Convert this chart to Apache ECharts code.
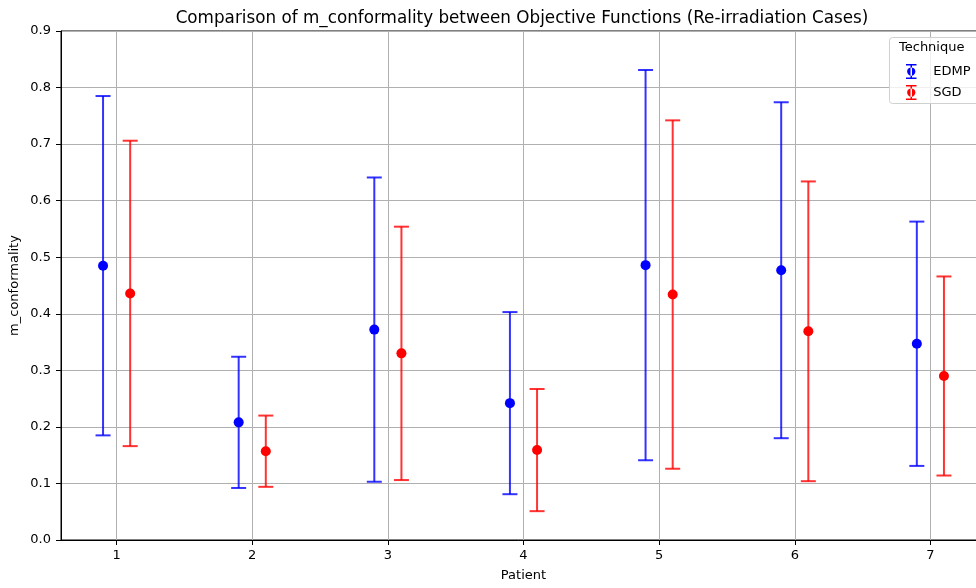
<!DOCTYPE html>
<html>
<head>
<meta charset="utf-8">
<script src="https://cdn.jsdelivr.net/npm/echarts@6/dist/echarts.min.js"></script>
<style>
html,body{margin:0;padding:0;background:#fff;}
#chart{width:976px;height:588px;}
</style>
</head>
<body>
<div id="chart"></div>
<script>
const patients = [1, 2, 3, 4, 5, 6, 7];
const edmpMean = [0.485, 0.208, 0.372, 0.242, 0.486, 0.477, 0.347];
const edmpStd  = [0.300, 0.116, 0.269, 0.161, 0.345, 0.297, 0.216];
const sgdMean  = [0.436, 0.157, 0.330, 0.159, 0.434, 0.369, 0.290];
const sgdStd   = [0.270, 0.063, 0.224, 0.108, 0.308, 0.265, 0.176];
const yTicks = [0.0, 0.1, 0.2, 0.3, 0.4, 0.5, 0.6, 0.7, 0.8, 0.9];

const FONT = 'DejaVu Sans';
const offset = 0.1;

function errData(means, stds, sign) {
  return patients.map((p, i) => [p + sign * offset, means[i] - stds[i], means[i] + stds[i]]);
}
function ptData(means, sign) {
  return patients.map((p, i) => [p + sign * offset, means[i]]);
}
function errRender(color) {
  return function (params, api) {
    const x = api.value(0);
    const lo = api.coord([x, api.value(1)]);
    const hi = api.coord([x, api.value(2)]);
    const cw = 7.5;
    const st = {stroke: color, lineWidth: 2};
    return {
      type: 'group',
      children: [
        {type: 'line', shape: {x1: lo[0], y1: lo[1], x2: hi[0], y2: hi[1]}, style: st},
        {type: 'line', shape: {x1: lo[0] - cw, y1: lo[1], x2: lo[0] + cw, y2: lo[1]}, style: st},
        {type: 'line', shape: {x1: hi[0] - cw, y1: hi[1], x2: hi[0] + cw, y2: hi[1]}, style: st}
      ]
    };
  };
}

const blueLine = 'rgba(0,0,255,0.8)';
const redLine = 'rgba(255,0,0,0.8)';
const errIcon = 'path://M0,0 L14,0 L14,2 L8,2 L8,18 L14,18 L14,20 L0,20 L0,18 L6,18 L6,2 L0,2 Z M7,4.5 A5.5,5.5 0 1,0 7,15.5 A5.5,5.5 0 1,0 7,4.5 Z';

const chart = echarts.init(document.getElementById('chart'), null, {renderer: 'canvas'});
chart.setOption({
  animation: false,
  backgroundColor: '#fff',
  textStyle: {fontFamily: FONT},
  title: {
    text: 'Comparison of m_conformality between Objective Functions (Re-irradiation Cases)',
    left: 517, top: 5, textAlign: 'center',
    textStyle: {fontFamily: FONT, fontSize: 16.8, fontWeight: 'normal', color: '#000'}
  },
  grid: {left: 61, top: 31, bottom: 48, right: -10, containLabel: false, outerBoundsMode: 'none',
         show: true, borderColor: '#000', borderWidth: 1},
  xAxis: {
    type: 'value', min: 0.59, max: 7.41, minInterval: 1, maxInterval: 1,
    name: 'Patient', nameLocation: 'middle', nameGap: 29, nameMoveOverlap: false,
    nameTextStyle: {fontFamily: FONT, fontSize: 13, color: '#000'},
    axisLine: {lineStyle: {color: '#000', width: 1}},
    axisTick: {show: true, length: 5, lineStyle: {color: '#000'}, customValues: patients},
    axisLabel: {fontFamily: FONT, fontSize: 13, color: '#000', margin: 9, customValues: patients,
      formatter: v => String(Math.round(v))},
    splitLine: {show: true, lineStyle: {color: '#b0b0b0', width: 1}}
  },
  yAxis: {
    type: 'value', min: 0, max: 0.9, interval: 0.1,
    name: 'm_conformality', nameLocation: 'middle', nameGap: 40, nameRotate: 90, nameMoveOverlap: false,
    nameTextStyle: {fontFamily: FONT, fontSize: 13, color: '#000'},
    axisLine: {show: true, lineStyle: {color: '#000', width: 1}},
    axisTick: {show: true, length: 5, lineStyle: {color: '#000'}},
    axisLabel: {fontFamily: FONT, fontSize: 13, color: '#000', margin: 10,
      formatter: v => v.toFixed(1)},
    splitLine: {show: true, lineStyle: {color: '#b0b0b0', width: 1}}
  },
  legend: {
    orient: 'vertical', left: 901, top: 59, itemGap: 6, itemWidth: 14, itemHeight: 15, z: 20,
    textStyle: {fontFamily: FONT, fontSize: 13, color: '#000', padding: [0, 0, 0, 10]},
    data: [
      {name: 'EDMP', icon: errIcon, itemStyle: {color: '#0000ff'}},
      {name: 'SGD', icon: errIcon, itemStyle: {color: '#ff0000'}}
    ]
  },
  graphic: [
    {type: 'rect', z: 15, shape: {x: 889.5, y: 37.5, width: 100, height: 66, r: 3},
     style: {fill: 'rgba(255,255,255,0.8)', stroke: '#d0d0d0', lineWidth: 1}},
    {type: 'text', z: 20, left: 899, top: 41,
     style: {text: 'Technique', fontFamily: FONT, fontSize: 13, fill: '#000'}}
  ],
  series: [
    {name: 'EDMP', type: 'custom', renderItem: errRender(blueLine), data: errData(edmpMean, edmpStd, -1), z: 3},
    {name: 'SGD', type: 'custom', renderItem: errRender(redLine), data: errData(sgdMean, sgdStd, 1), z: 3},
    {name: 'EDMP', type: 'scatter', symbol: 'circle', symbolSize: 10, itemStyle: {color: '#0000ff', opacity: 1},
     data: ptData(edmpMean, -1), z: 4},
    {name: 'SGD', type: 'scatter', symbol: 'circle', symbolSize: 10, itemStyle: {color: '#ff0000', opacity: 1},
     data: ptData(sgdMean, 1), z: 4}
  ]
});
</script>
</body>
</html>
